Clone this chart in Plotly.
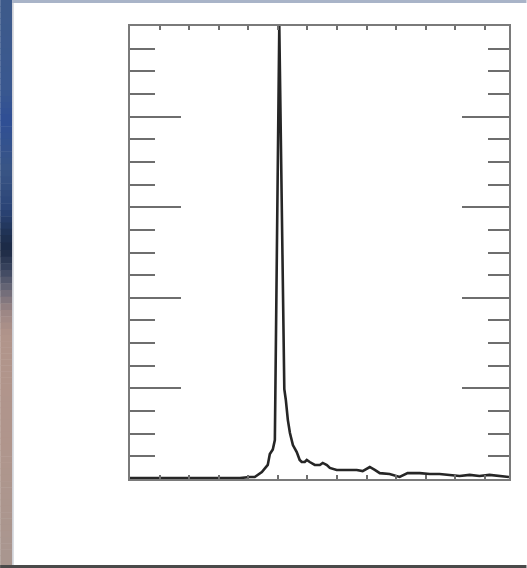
import plotly.graph_objects as go

# Data (x in tick units, y in minor-tick units)
x_vals = [0.0, 1.0, 2.0, 3.0, 3.72, 4.05, 4.22, 4.46, 4.56, 4.66, 4.73, 4.83, 4.90,
          5.05,
          5.22, 5.27, 5.34, 5.41, 5.51, 5.64, 5.74, 5.81, 5.91, 5.98, 6.08, 6.25,
          6.42, 6.52, 6.66, 6.76, 6.99, 7.33, 7.67, 7.87, 8.11, 8.28, 8.45, 8.78,
          9.12, 9.39, 9.80, 10.14, 10.47, 10.81, 11.15, 11.49, 11.82, 12.16, 12.50, 12.82]
y_vals = [0.04, 0.04, 0.04, 0.04, 0.04, 0.09, 0.09, 0.31, 0.49, 0.62, 1.10, 1.30, 1.72,
          20.0,
          3.97, 3.50, 2.60, 2.03, 1.50, 1.19, 0.84, 0.75, 0.75, 0.84, 0.75, 0.62,
          0.62, 0.71, 0.62, 0.49, 0.40, 0.40, 0.40, 0.35, 0.53, 0.40, 0.26, 0.22,
          0.09, 0.26, 0.26, 0.22, 0.22, 0.18, 0.13, 0.18, 0.13, 0.18, 0.13, 0.09]

X_RANGE = [0, 12.82]
Y_RANGE = [0, 20]

W, H = 527, 568
ML, MR, MT, MB = 130, 17.5, 26, 89
PW = W - ML - MR
PH = H - MT - MB

def px_to_paper_x(px):
    return (px - ML) / PW

def px_to_paper_y(py):
    return (H - MB - py) / PH

fig = go.Figure()
fig.add_trace(go.Scatter(x=x_vals, y=y_vals, mode="lines",
                         line=dict(color="#262626", width=2.6),
                         showlegend=False, hoverinfo="skip"))
# invisible trace on the right-hand axis so it is drawn
fig.add_trace(go.Scatter(x=[x_vals[0]], y=[y_vals[0]], yaxis="y2", mode="lines",
                         line=dict(width=0), showlegend=False, hoverinfo="skip"))

tick_col = "#6e6e6e"
fig.update_layout(
    width=W, height=H,
    margin=dict(l=ML, r=MR, t=MT, b=MB, pad=0),
    paper_bgcolor="white", plot_bgcolor="white",
    xaxis=dict(range=X_RANGE, tick0=0, dtick=1, ticks="inside", ticklen=4,
               tickwidth=1.5, tickcolor=tick_col, showticklabels=False,
               showgrid=False, zeroline=False, showline=True, linecolor="#7a7a7a",
               linewidth=2, mirror="ticks"),
    yaxis=dict(range=Y_RANGE, tick0=0, dtick=4, ticks="inside", ticklen=51,
               tickwidth=2, tickcolor=tick_col, showticklabels=False,
               showgrid=False, zeroline=False, showline=True, linecolor="#7a7a7a",
               linewidth=2, mirror=True,
               minor=dict(dtick=1, tick0=0, ticks="inside", ticklen=25,
                          tickwidth=2, tickcolor=tick_col, showgrid=False)),
    yaxis2=dict(range=Y_RANGE, overlaying="y", side="right", tick0=0, dtick=4,
                ticks="inside", ticklen=47, tickwidth=2, tickcolor=tick_col,
                showticklabels=False, showgrid=False, zeroline=False,
                showline=False,
                minor=dict(dtick=1, tick0=0, ticks="inside", ticklen=21,
                           tickwidth=2, tickcolor=tick_col, showgrid=False)),
)

# Photo-like surroundings: left colored strip, top strip, bottom line
strip_stops = [
    (0, "#3e5b8b"), (90, "#3a5890"), (120, "#2f4f95"), (170, "#3a5686"),
    (210, "#2b4476"), (235, "#1f3152"), (250, "#1c2a44"), (270, "#3c4660"),
    (290, "#6d6a78"), (310, "#9a8585"), (335, "#b2958b"), (450, "#b0968d"),
    (568, "#a99690"),
]

def hex2rgb(h):
    h = h.lstrip("#")
    return tuple(int(h[i:i + 2], 16) for i in (0, 2, 4))

shapes = []
for (y0, c0), (y1, c1) in zip(strip_stops[:-1], strip_stops[1:]):
    steps = max(1, int((y1 - y0) / 6))
    r0, g0, b0 = hex2rgb(c0)
    r1, g1, b1 = hex2rgb(c1)
    for i in range(steps):
        t = (i + 0.5) / steps
        col = "rgb(%d,%d,%d)" % (r0 + (r1 - r0) * t, g0 + (g1 - g0) * t, b0 + (b1 - b0) * t)
        ya = y0 + (y1 - y0) * i / steps
        yb = y0 + (y1 - y0) * (i + 1) / steps + 0.5
        shapes.append(dict(type="rect", xref="paper", yref="paper",
                           x0=px_to_paper_x(0), x1=px_to_paper_x(12),
                           y0=px_to_paper_y(yb), y1=px_to_paper_y(ya),
                           fillcolor=col, line=dict(width=0), layer="above"))
shapes.append(dict(type="rect", xref="paper", yref="paper",
                   x0=px_to_paper_x(12), x1=px_to_paper_x(13.5),
                   y0=px_to_paper_y(568), y1=px_to_paper_y(0),
                   fillcolor="#c9ccd3", line=dict(width=0), layer="above"))
shapes.append(dict(type="rect", xref="paper", yref="paper",
                   x0=px_to_paper_x(12), x1=px_to_paper_x(527),
                   y0=px_to_paper_y(3), y1=px_to_paper_y(0),
                   fillcolor="#a9b4c8", line=dict(width=0), layer="above"))
shapes.append(dict(type="rect", xref="paper", yref="paper",
                   x0=px_to_paper_x(0), x1=px_to_paper_x(527),
                   y0=px_to_paper_y(568), y1=px_to_paper_y(565),
                   fillcolor="#4a4a4a", line=dict(width=0), layer="above"))
fig.update_layout(shapes=shapes)

fig.write_html("out.html")
